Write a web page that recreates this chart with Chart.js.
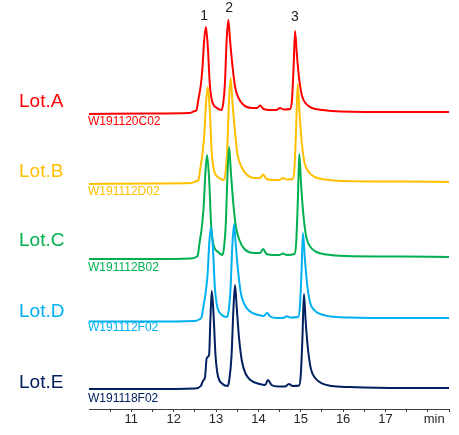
<!DOCTYPE html>
<html>
<head>
<meta charset="utf-8">
<script src="https://cdn.jsdelivr.net/npm/chart.js@4.4.1/dist/chart.umd.min.js"></script>
<style>
  html, body { margin: 0; padding: 0; background: #fff; }
  #wrap { position: relative; width: 459px; height: 435px; }
</style>
</head>
<body>
<div id="wrap"><canvas id="c"></canvas></div>
<script>
// ---------------- DATA ----------------
const lotNames = ['Lot.A', 'Lot.B', 'Lot.C', 'Lot.D', 'Lot.E'];
const lotIds = ['W191120C02', 'W191112D02', 'W191112B02', 'W191112F02', 'W191118F02'];
const lotOffsets = [276, 206, 131, 70, 0];   // stacking offset of each trace
const peakLabels = ['1', '2', '3'];
const peakLabelTimes = [12.72, 13.31, 14.86];
const tickLabels = ['11', '12', '13', '14', '15', '16', '17'];
const axisUnit = 'min';

const lotA_t = [10.0, 11.43, 12.38, 12.50, 12.54, 12.58, 12.64, 12.68, 12.72, 12.76, 12.81, 12.85, 12.90, 13.02, 13.13, 13.17, 13.21, 13.25, 13.29, 13.33, 13.39, 13.45, 13.53, 13.65, 13.84, 13.97, 14.04, 14.12, 14.28, 14.42, 14.51, 14.60, 14.75, 14.79, 14.83, 14.865, 14.905, 14.96, 15.03, 15.13, 15.27, 15.51, 15.94, 17.38, 18.5];
const lotA_v = [-2, -1.5, -1, 1, 2, 12, 27, 45, 72, 85, 62, 29, 12, 4, 2, 9, 29, 72, 92, 72, 45, 25, 14, 7, 4, 4, 6.5, 3, 2, 2, 4, 2.5, 3, 11, 44, 81, 59, 34, 16, 8, 4, 2, 0.5, 0, 0];

const lotB_t = [10.0, 11.43, 12.42, 12.545, 12.585, 12.625, 12.685, 12.725, 12.765, 12.805, 12.855, 12.895, 12.945, 13.075, 13.185, 13.225, 13.265, 13.305, 13.345, 13.385, 13.445, 13.505, 13.59, 13.71, 13.91, 14.04, 14.11, 14.19, 14.35, 14.49, 14.58, 14.67, 14.81, 14.85, 14.89, 14.927, 14.967, 15.02, 15.09, 15.19, 15.33, 15.57, 16.00, 17.40, 18.5];
const lotB_v = [-2, -1.5, -1, 1, 2, 13, 30, 50, 80, 95, 69, 32, 13, 4, 2, 10, 33, 81, 104, 81, 51, 28, 16, 8, 4, 4, 7.5, 3, 2, 2, 4, 2.5, 3, 13, 53, 98, 71, 41, 19, 10, 5, 2.5, 1, 0.5, 0];

const lotC_t = [10.0, 11.43, 12.40, 12.53, 12.57, 12.61, 12.665, 12.705, 12.75, 12.788, 12.84, 12.88, 12.93, 13.05, 13.15, 13.19, 13.23, 13.27, 13.307, 13.35, 13.41, 13.47, 13.55, 13.67, 13.91, 14.04, 14.11, 14.19, 14.35, 14.49, 14.58, 14.67, 14.85, 14.89, 14.93, 14.965, 15.005, 15.06, 15.13, 15.23, 15.37, 15.61, 16.04, 17.40, 18.5];
const lotC_v = [-2, -2, -1.5, 0, 2, 14, 30, 49, 85, 102, 75, 35, 14, 5, 2, 10, 33, 83, 110, 85, 52, 30, 17, 8, 4, 4, 8, 3, 2, 2, 3.5, 2, 3, 13, 55, 103, 74, 43, 20, 10, 5, 2.5, 1, 0.5, 0];

const lotD_t = [10.0, 11.43, 12.50, 12.62, 12.66, 12.70, 12.76, 12.80, 12.84, 12.882, 12.93, 12.97, 13.02, 13.14, 13.26, 13.30, 13.34, 13.385, 13.425, 13.465, 13.525, 13.585, 13.665, 13.785, 14.00, 14.13, 14.203, 14.28, 14.44, 14.58, 14.67, 14.76, 14.937, 14.977, 15.017, 15.052, 15.092, 15.147, 15.217, 15.317, 15.457, 15.70, 16.13, 17.40, 18.5];
const lotD_v = [-3.5, -3.5, -3, -1, 1, 11, 27, 44, 75, 91, 67, 32, 13, 3, 1, 8, 28, 73, 94, 73, 45, 25, 14, 7, 3, 2, 5, 1.5, 0, 0, 1.7, 0.5, 1, 10, 45, 85, 62, 35, 16, 8, 4, 1.5, 0.5, 0, 0];

const lotE_t = [10.0, 11.43, 12.50, 12.64, 12.69, 12.74, 12.78, 12.835, 12.866, 12.899, 12.945, 12.985, 13.035, 13.155, 13.275, 13.315, 13.365, 13.41, 13.448, 13.49, 13.545, 13.61, 13.69, 13.81, 14.03, 14.16, 14.226, 14.31, 14.47, 14.63, 14.72, 14.81, 14.96, 15.00, 15.04, 15.075, 15.115, 15.17, 15.24, 15.34, 15.48, 15.72, 16.15, 17.40, 18.5];
const lotE_v = [-1, -1, -0.5, 2, 7, 11, 30, 33, 68, 97, 70, 34, 14, 4, 2, 9, 32, 79, 103, 79, 49, 27, 15, 8, 4, 3, 8, 3, 1.5, 1.5, 4, 2, 2.5, 13, 51, 94, 67, 39, 19, 10, 5, 2, 1, 0, 0];

const lotTimes = [lotA_t, lotB_t, lotC_t, lotD_t, lotE_t];
const lotValues = [lotA_v, lotB_v, lotC_v, lotD_v, lotE_v];

// ---------------- STYLE / LAYOUT ----------------
const lotColors = ['#FF0000', '#FFC000', '#00B050', '#00B0F0', '#002060'];
const lotLabelY = [102, 172, 241, 312, 383];
const idLabelY = [122, 192, 268, 328, 399];
const peakLabelY = [16, 8, 17];
const FONT = "'Liberation Sans', Arial, Helvetica, sans-serif";

const datasets = lotNames.map((name, i) => ({
  label: name,
  data: lotTimes[i].map((t, k) => ({ x: t, y: lotValues[i][k] + lotOffsets[i] })),
  borderColor: lotColors[i],
  backgroundColor: lotColors[i],
  borderWidth: 2,
  pointRadius: 0,
  showLine: true,
  fill: false,
  cubicInterpolationMode: 'monotone',
  order: lotNames.length - 1 - i
}));

const textPlugin = {
  id: 'textPlugin',
  afterDraw(chart) {
    const ctx = chart.ctx;
    const xs = chart.scales.x;
    ctx.save();
    ctx.textBaseline = 'middle';
    ctx.textAlign = 'left';
    lotNames.forEach((n, i) => {
      ctx.fillStyle = lotColors[i];
      ctx.font = '19px ' + FONT;
      ctx.fillText(n, 19, lotLabelY[i]);
      ctx.font = '12px ' + FONT;
      ctx.fillText(lotIds[i], 88, idLabelY[i]);
    });
    ctx.textAlign = 'center';
    ctx.fillStyle = '#222';
    ctx.font = '14px ' + FONT;
    peakLabels.forEach((p, i) => {
      ctx.fillText(p, xs.getPixelForValue(peakLabelTimes[i]), peakLabelY[i]);
    });
    ctx.restore();
  }
};

new Chart(document.getElementById('c'), {
  type: 'scatter',
  data: { datasets },
  options: {
    responsive: true,
    maintainAspectRatio: false,
    animation: false,
    events: [],
    layout: { padding: { left: 89, right: 10, top: 10, bottom: 0 } },
    plugins: { legend: { display: false }, tooltip: { enabled: false } },
    scales: {
      x: {
        type: 'linear',
        min: 10,
        max: 18.5,
        afterBuildTicks(scale) {
          const t = [];
          for (let k = 1; k <= 17; k++) t.push({ value: 10 + k * 0.5 });
          t.push({ value: 18.15 });
          scale.ticks = t;
        },
        afterFit(scale) { scale.height = 26; },
        ticks: {
          autoSkip: false,
          maxRotation: 0,
          padding: 0,
          color: '#262626',
          font: { family: FONT, size: 13 },
          callback(v) {
            if (Math.abs(v - 18.15) < 1e-6) return axisUnit;
            const s = String(Math.round(v));
            return (Math.abs(v - Math.round(v)) < 1e-6 && tickLabels.includes(s)) ? s : '';
          }
        },
        grid: {
          drawOnChartArea: false,
          drawTicks: true,
          tickLength: 3,
          color: (c) => (c.tick && Math.abs(c.tick.value - 18.15) < 1e-6) ? 'rgba(0,0,0,0)' : '#404040'
        },
        border: { display: true, color: '#404040', width: 1 }
      },
      y: {
        type: 'linear',
        display: false,
        min: -21,
        max: 378
      }
    }
  },
  plugins: [textPlugin]
});
</script>
</body>
</html>
